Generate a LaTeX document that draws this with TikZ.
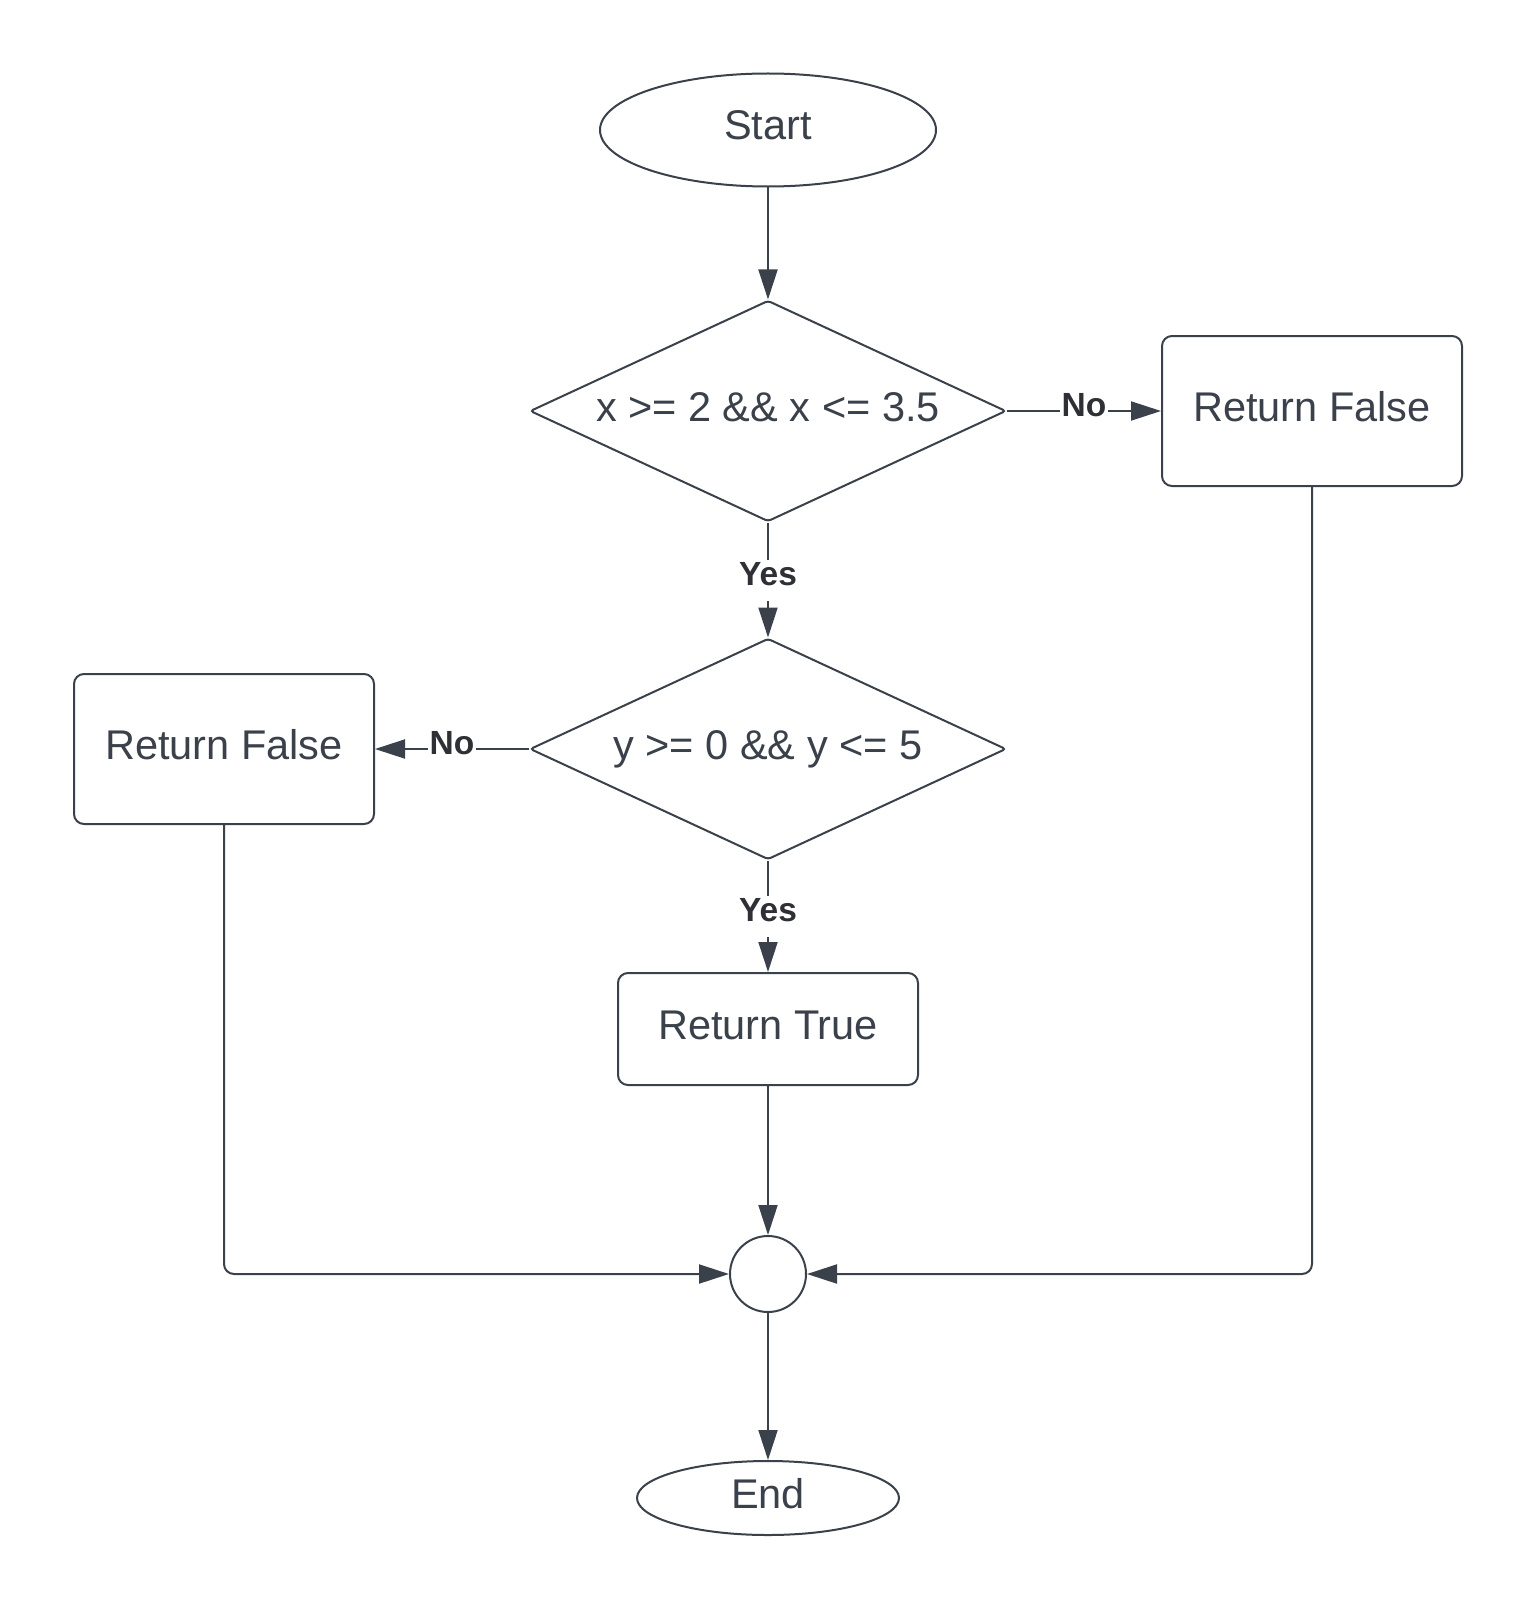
\documentclass[tikz,border=0pt]{standalone}
\usepackage{fontspec}
\setmainfont{Liberation Sans}
\usetikzlibrary{shapes.geometric,arrows.meta}
\definecolor{ink}{HTML}{3A414A}
\definecolor{labelink}{HTML}{2E3036}

\begin{document}
\begin{tikzpicture}[x=1pt,y=-1pt,line width=2pt,
	shapebase/.style={draw=ink,text=ink,fill=white,inner sep=0pt,font=\fontsize{41.5}{50}\selectfont,text height=30pt,text depth=10pt},
	terminal/.style={shapebase,ellipse},
	decision/.style={shapebase,diamond,aspect=2.15,rounded corners=3pt,minimum width=476pt,minimum height=221pt},
	process/.style={shapebase,rectangle,rounded corners=10pt,minimum width=300pt,minimum height=150pt},
	junction/.style={draw=ink,fill=white,circle,minimum size=76pt,inner sep=0pt},
	answer/.style={fill=white,text=labelink,inner sep=2pt,text height=24pt,text depth=13pt,font=\fontsize{33.5}{40}\selectfont\bfseries},
	flow/.style={draw=ink,-{Triangle[length=30pt,width=19pt]}}]
	\useasboundingbox (0,0) rectangle (1538,1613);

	\node[terminal,minimum width=336pt,minimum height=113pt] (start) at (768,130) {Start};
	\node[decision] (xcheck) at (768,411) {x >= 2 \&\& x <= 3.5};
	\node[process] (falseA) at (1312,411) {Return False};
	\node[decision] (ycheck) at (768,749) {y >= 0 \&\& y <= 5};
	\node[process] (falseB) at (224,749) {Return False};
	\node[process,minimum height=112pt] (true) at (768,1029) {Return True};
	\node[junction] (merge) at (768,1274) {};
	\node[terminal,minimum width=262pt,minimum height=74pt] (stop) at (768,1498) {End};

	\draw[flow] (start) -- (xcheck);
	\draw[flow] (xcheck) -- node[answer]{Yes} (ycheck);
	\draw[flow] (xcheck) -- node[answer]{No} (falseA);
	\draw[flow] (ycheck) -- node[answer]{No} (falseB);
	\draw[flow] (ycheck) -- node[answer]{Yes} (true);
	\draw[flow] (true) -- (merge);
	\draw[flow,rounded corners=10pt] (falseB) |- (merge);
	\draw[flow,rounded corners=10pt] (falseA) |- (merge);
	\draw[flow] (merge) -- (stop);
\end{tikzpicture}
\end{document}
